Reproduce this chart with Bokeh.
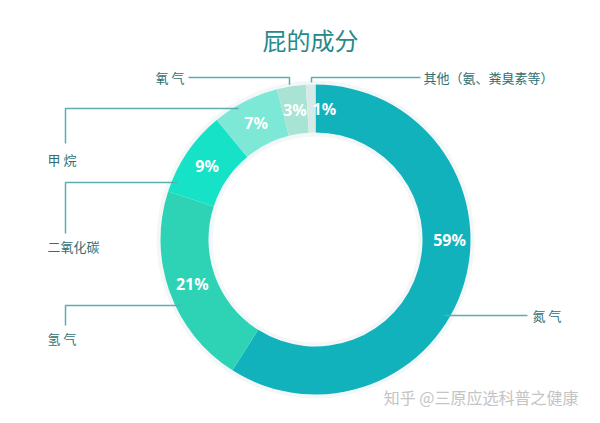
import math
from bokeh.plotting import figure
from bokeh.models import Range1d, ColumnDataSource
from bokeh.core.properties import value
from bokeh.embed import file_html
from bokeh.resources import INLINE

# ---- data ----
title_text = "屁的成分"
categories = ["氮 气", "氢 气", "二氧化碳", "甲 烷", "氧 气", "其他（氨、粪臭素等）"]
shares = [59, 21, 9, 7, 3, 1]
pct_labels = ["59%", "21%", "9%", "7%", "3%", "1%"]
colors = ["#12b2bd", "#2dd3b4", "#16e2c8", "#7de8d5", "#a8e3d4", "#d6ebe7"]
watermark = "知乎 @三原应选科普之健康"

W, H = 584, 407
PAGE_H = 423

def Y(py):
    return PAGE_H - py

p = figure(width=W, height=H, output_backend="svg", toolbar_location=None,
           x_range=Range1d(0, W), y_range=Range1d(PAGE_H - H, PAGE_H),
           min_border=0, outline_line_color=None, background_fill_color="white",
           border_fill_color="white")
p.axis.visible = False
p.grid.visible = False

CX, CY = 315, 239
R_OUT, R_IN = 155, 107

# soft halo around the ring
p.annulus(x=CX, y=Y(CY), inner_radius=R_OUT, outer_radius=R_OUT + 4,
          fill_color="#e6eeee", fill_alpha=0.45, line_color=None)
p.annulus(x=CX, y=Y(CY), inner_radius=R_IN - 4, outer_radius=R_IN,
          fill_color="#e6eeee", fill_alpha=0.45, line_color=None)

total = float(sum(shares))
cum = [0.0]
for s in shares:
    cum.append(cum[-1] + s / total)
starts = [math.pi / 2 - 2 * math.pi * a for a in cum[:-1]]
ends = [math.pi / 2 - 2 * math.pi * b for b in cum[1:]]
mids = [(a + b) / 2 for a, b in zip(cum[:-1], cum[1:])]

src = ColumnDataSource(dict(start=starts, end=ends, color=colors,
                            cat=categories, share=shares))
p.annular_wedge(x=CX, y=Y(CY), inner_radius=R_IN, outer_radius=R_OUT,
                start_angle="start", end_angle="end", direction="clock",
                fill_color="color", line_color=None, source=src)

# percentage labels on the ring
r_mid = (R_IN + R_OUT) / 2
lx, ly = [], []
for i, m in enumerate(mids):
    ang = 2 * math.pi * m
    if i == 0:
        ang = math.pi / 2  # placed at 3 o'clock
    x = CX + r_mid * math.sin(ang)
    y = CY - r_mid * math.cos(ang)
    if i == 5:
        x += 13
    lx.append(x + (3 if i == 0 else 0))
    ly.append(Y(y))
p.text(x=lx, y=ly, text=pct_labels, text_color="white", text_align="center",
       text_baseline="middle", text_font=value("Noto Sans"), text_font_style="bold",
       text_font_size="16px")

# leader lines + labels (layout in pixel space)
LINE_C = "#5aaeb2"
TXT_C = "#2f6f73"
GAP = 6

def ring_x(py, side):
    dy = py - CY
    dx = math.sqrt(max(R_OUT ** 2 - dy ** 2, 0))
    return CX + side * dx - side * GAP

def ring_y(px):
    dx = px - CX
    return CY - math.sqrt(R_OUT ** 2 - dx ** 2) - 1

paths_x, paths_y = [], []
tx, ty, ta, tt = [], [], [], []

# 氮气 (right)
yy = 315
paths_x.append([ring_x(yy, 1), 527]); paths_y.append([Y(yy), Y(yy)])
tx.append(532); ty.append(Y(yy)); ta.append("left"); tt.append(categories[0])
# 氢气, 二氧化碳, 甲烷 (left column)
for idx, (hy, vy, tyy) in zip([1, 2, 3], [(305, 325, 338), (182, 233, 246), (108, 143, 159)]):
    paths_x.append([ring_x(hy, -1), 65, 65]); paths_y.append([Y(hy), Y(hy), Y(vy)])
    tx.append(47); ty.append(Y(tyy)); ta.append("left"); tt.append(categories[idx])
# 氧气 (top left)
paths_x.append([188, 289, 289]); paths_y.append([Y(77), Y(77), Y(ring_y(289) - 1)])
tx.append(184); ty.append(Y(77)); ta.append("right"); tt.append(categories[4])
# 其他 (top right)
paths_x.append([311, 311, 420]); paths_y.append([Y(ring_y(311) - 1), Y(77), Y(77)])
tx.append(423); ty.append(Y(77)); ta.append("left"); tt.append(categories[5])

p.multi_line(xs=paths_x, ys=paths_y, line_color=LINE_C, line_width=1.5)
p.text(x=tx, y=ty, text=tt, text_align=ta, text_baseline="middle",
       text_color=TXT_C, text_font=value("Noto Sans CJK SC"), text_font_size="13px")

# title
p.text(x=[310], y=[Y(39)], text=[title_text], text_align="center", text_baseline="middle",
       text_color="#268a8c", text_font=value("Noto Sans CJK SC"), text_font_size="24px",
       text_font_style="normal")

# watermark
p.text(x=[578], y=[Y(396)], text=[watermark], text_align="right", text_baseline="middle",
       text_color="#c4c4c4", text_font=value("Noto Sans CJK SC"), text_font_size="16px")

open("out.html", "w").write(file_html(p, INLINE))
